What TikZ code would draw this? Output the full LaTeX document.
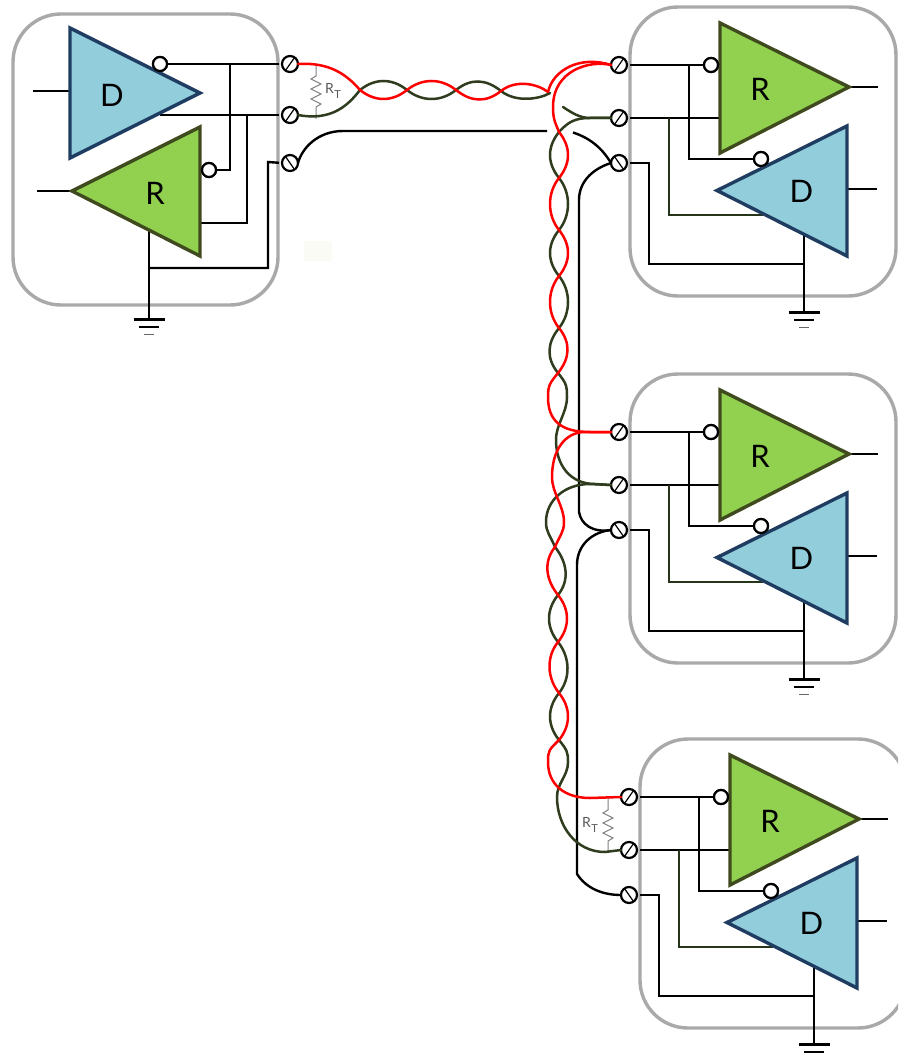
\documentclass[tikz,border=0pt]{standalone}
\usepackage{fontspec}
\setmainfont{Lato}
\definecolor{frameg}{HTML}{A9A9A9}
\definecolor{wgreen}{HTML}{2F3D1E}
\definecolor{bgreen}{HTML}{26341A}
\definecolor{rfill}{HTML}{92D14F}
\definecolor{rline}{HTML}{3F4A1E}
\definecolor{dfill}{HTML}{92CDDC}
\definecolor{dline}{HTML}{1F3D60}
\definecolor{beige}{HTML}{FBFBF5}
\tikzset{
  frame/.style={draw=frameg,line width=3.4pt,rounded corners=48pt},
  rtri/.style={draw=rline,fill=rfill,line width=3.4pt,miter limit=4},
  dtri/.style={draw=dline,fill=dfill,line width=3.4pt,miter limit=4},
  lead/.style={draw=black,line width=2.4pt},
  gbranch/.style={draw=bgreen,line width=2.4pt},
  termnode/.style={circle,draw=black,fill=white,line width=2.2pt,minimum size=16pt,inner sep=0pt,outer sep=0pt},
  slash/.style={draw=black,line width=1.2pt},
  bubble/.style={circle,draw=black,fill=white,line width=2.2pt,minimum size=14pt,inner sep=0pt,outer sep=0pt},
  letter/.style={inner sep=0pt,font=\fontsize{31}{36}\selectfont},
  redw/.style={draw=red,line width=2.5pt,line cap=round},
  greenw/.style={draw=wgreen,line width=2.5pt,line cap=round},
  blackw/.style={draw=black,line width=2.4pt},
  resistor/.style={draw=gray,line width=1pt},
  rtlabel/.style={text=black!65,inner sep=0pt,font=\fontsize{14}{16}\selectfont},
}
\newcommand\rtext{R\kern0.5pt\raisebox{-5pt}{\fontsize{11}{12}\selectfont T}}
% lens-shaped half twists
\def\bR{.. controls +(12,15) and +(12,-15) ..}
\def\bL{.. controls +(-12,15) and +(-12,-15) ..}
\def\bU{.. controls +(15,-12) and +(-15,-12) ..}
\def\bD{.. controls +(15,12) and +(-15,12) ..}
\newcommand\groundsym[2]{%
  \draw[line width=3pt] (#1-15.5,#2) -- (#1+15.5,#2);
  \draw[line width=2.2pt] (#1-10,#2+8) -- (#1+10,#2+8);
  \draw[line width=1pt,draw=black!60] (#1-5,#2+15) -- (#1+5,#2+15);
}
\newcommand\termfw[3]{\node[termnode] (#1) at (#2,#3) {};\draw[slash] (#1.235) -- (#1.55);}
\newcommand\termbk[3]{\node[termnode] (#1) at (#2,#3) {};\draw[slash] (#1.125) -- (#1.305);}
\newcommand\rmod[3]{%
\begin{scope}[shift={(#2,#3)}]
  \draw[frame] (630,7) rectangle (896,296);
  \coordinate (#1rin) at (720,118);
  \coordinate (#1j1) at (689,65);
  \coordinate (#1j2) at (669,118);
  \coordinate (#1dn) at (763,215);
  \coordinate (#1gt) at (804,235);
  \coordinate (#1gb) at (804,312);
  \coordinate (#1gj) at (804,264);
  \coordinate (#1rout) at (849,87);
  \coordinate (#1routE) at (878,87);
  \coordinate (#1dout) at (847,189);
  \coordinate (#1doutE) at (877,189);
  \termfw{#1t1}{619}{65}
  \termfw{#1t2}{619}{118}
  \termbk{#1t3}{619}{163}
  \node[bubble] (#1b1) at (711,65) {};
  \node[bubble] (#1b2) at (761,159) {};
  \draw[lead,shorten <=3pt] (#1t1.east) -- (#1b1.west);
  \draw[lead,shorten <=3pt] (#1t2.east) -- (#1rin);
  \draw[lead] (#1j1) |- (#1b2.west);
  \draw[gbranch] (#1j2) |- (#1dn);
  \draw[lead,shorten <=3pt] (#1t3.east) -| (649,264) -- (#1gj);
  \draw[lead] (#1gt) -- (#1gb);
  \draw[lead] (#1rout) -- (#1routE);
  \draw[lead] (#1dout) -- (#1doutE);
  \draw[rtri] (720,23) -- (720,153) -- (849,87) -- cycle;
  \draw[dtri] (717,190.5) -- (847,126) -- (847,256) -- cycle;
  \node[bubble] at (#1b1) {};
  \node[bubble] at (#1b2) {};
  \node[letter] (#1rl) at (760,89) {R};
  \node[letter] (#1dl) at (801.5,191) {D};
  \groundsym{804}{312}
\end{scope}}
\begin{document}
\begin{tikzpicture}[x=1pt,y=-1pt]
\clip (0,0) rectangle (898,1059);
\fill[white] (0,0) rectangle (898,1059);
\fill[beige] (304,241) rectangle (332,261);
% left module
\draw[frame] (13,14) rectangle (278,305);
\termfw{a1}{290}{64}
\termfw{a2}{290}{115}
\termbk{a3}{290}{163}
\node[bubble] (ab1) at (160,64) {};
\node[bubble] (ab2) at (209,170) {};
\coordinate (aj1) at (230,64);
\coordinate (aj2) at (247,115);
\coordinate (adq) at (160,115);
\coordinate (arq) at (200,223);
\coordinate (agt) at (149,230);
\coordinate (agb) at (149,319);
\coordinate (agj) at (149,268);
\coordinate (adi) at (33,91);
\coordinate (adiE) at (70,91);
\coordinate (aro) at (37,191);
\coordinate (aroE) at (72,191);
\draw[lead,shorten <=3pt] (a1.west) -- (ab1.east);
\draw[lead,shorten <=3pt] (a2.west) -- (adq);
\draw[lead] (aj1) |- (ab2.east);
\draw[lead] (aj2) |- (arq);
\draw[lead] (agt) -- (agb);
\draw[lead,shorten >=3pt] (agj) -| (268,162) -- (a3.west);
\draw[lead] (adi) -- (adiE);
\draw[lead] (aro) -- (aroE);
\draw[dtri] (70,28) -- (70,158) -- (200,93) -- cycle;
\draw[rtri] (72,191) -- (200,127) -- (200,256) -- cycle;
\node[bubble] at (ab1) {};
\node[bubble] at (ab2) {};
\node[letter] (adl) at (112,95) {D};
\node[letter] (arl) at (155,193) {R};
\groundsym{149}{319}
% right modules
\rmod{b}{0}{0}
\rmod{c}{0}{367}
\rmod{d}{10}{732}
% left termination resistor
\coordinate (rt1) at (316,65);
\coordinate (rt2) at (316,119);
\draw[resistor] (rt1) -- (316,76) -- (311,79) -- (321,84) -- (311,89) -- (321,94) -- (311,99) -- (321,104) -- (316,107) -- (rt2);
\node[rtlabel] (rtl1) at (333,91) {\rtext};
% far termination resistor
\coordinate (rt3) at (608,798);
\coordinate (rt4) at (608,852);
\draw[resistor] (rt3) -- (608,810) -- (603,813) -- (613,818) -- (603,823) -- (613,828) -- (603,833) -- (613,838) -- (608,841) -- (rt4);
\node[rtlabel] (rtl2) at (590,825) {\rtext};
% shield (black)
\coordinate (s1) at (547,131);
\coordinate (s2) at (343,131);
\draw[blackw] (a3.east) .. controls (302,148) and (318,131) .. (s2) -- (s1);
\draw[blackw] (573,132.5) .. controls (590,138) and (602,148) .. (bt3.west);
\draw[blackw] (bt3.west) .. controls (595,168) and (579,180) .. (579,200) -- (579,512) .. controls (581,524) and (592,533) .. (ct3.west);
\draw[blackw] (ct3.west) .. controls (592,532) and (577,545) .. (577,565) -- (577,874) .. controls (586,888) and (602,895) .. (dt3.west);
% green pair
\draw[greenw] (a2.east) .. controls (330,121) and (347,107) .. (360,90)
  \bU (407,90) \bD (456,90) \bU (501,91)
  .. controls +(15,12) and +(-10,6) .. (550,93);
\coordinate (g0) at (590,118);
\draw[greenw] (563,107) .. controls (572,113) and (580,118) .. (g0) -- (bt2.west);
\draw[greenw] (bt2.west) -- (g0) .. controls (575,118) and (568,122) .. (559,132)
  \bL (559,178) \bR (559,230) \bL (559,276) \bR (559,328) \bL (558,373)
  .. controls +(8,10) and +(0,-12) .. (567,397)
  .. controls +(0,16) and +(0,-16) .. (556,440)
  .. controls +(0,25) and +(-25,0) .. (595,484) -- (ct2.west);
\draw[greenw] (ct2.west) -- (590,484) .. controls (565,484) and (546,500) .. (546,522)
  .. controls +(0,10) and +(-5,-12) .. (555,547)
  \bR (558,595) \bL (558,642) \bR (559,693) \bL (559,740)
  .. controls +(8,10) and +(0,-10) .. (568,762)
  .. controls +(0,14) and +(0,-14) .. (557,797)
  .. controls +(0,28) and +(-30,0) .. (605,852) -- (dt2.west);
% red pair
\draw[redw] (a1.east) .. controls (330,62) and (347,75) .. (360,90)
  \bD (407,90) \bU (456,90) \bD (501,91) 
  .. controls +(15,-12) and +(-10,-8) .. (548,92);
\draw[redw] (548,92) .. controls (553,70) and (580,55) .. (bt1.west);
\draw[redw] (bt1.west) .. controls (590,60) and (553,70) .. (553,107)
  .. controls +(0,12) and +(-4,-10) .. (559,132)
  \bR (559,178) \bL (559,230) \bR (559,276) \bL (559,328) \bR (558,373)
  .. controls +(-8,10) and +(0,-12) .. (548,397)
  .. controls +(0,23) and +(-30,0) .. (590,432) -- (ct1.west);
\draw[redw] (ct1.west) -- (585,432) .. controls (565,432) and (552,450) .. (552,477)
  .. controls +(0,16) and +(0,-16) .. (564,522)
  .. controls +(0,10) and +(5,-12) .. (555,547)
  \bL (558,595) \bR (558,642) \bL (559,693) \bR (559,740)
  .. controls +(-10,10) and +(0,-12) .. (548,762)
  .. controls +(0,23) and +(-25,0) .. (590,798) -- (dt1.west);
\end{tikzpicture}
\end{document}
